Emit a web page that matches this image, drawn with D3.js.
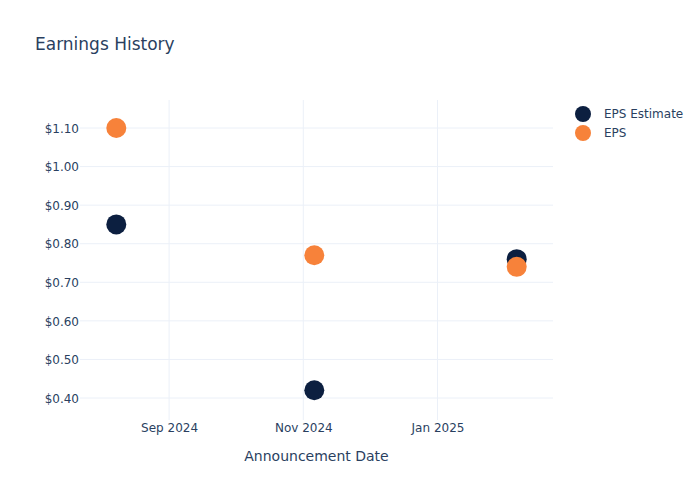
<!DOCTYPE html>
<html>
<head>
<meta charset="utf-8">
<script src="https://cdn.jsdelivr.net/npm/d3@7"></script>
<style>
body { margin: 0; background: #fff; }
svg { font-family: "DejaVu Sans", "Open Sans", sans-serif; }
</style>
</head>
<body>
<svg id="chart" width="700" height="500"></svg>
<script>
const dates = ["2024-08-08", "2024-11-06", "2025-02-06"];
const epsEstimate = [0.85, 0.42, 0.76];
const eps = [1.10, 0.77, 0.74];
const yTicks = [0.40, 0.50, 0.60, 0.70, 0.80, 0.90, 1.00, 1.10];
const xTickDates = ["2024-09-01", "2024-11-01", "2025-01-01"];
const xTickLabels = ["Sep 2024", "Nov 2024", "Jan 2025"];
const seriesNames = ["EPS Estimate", "EPS"];
const seriesColors = ["#0c1f40", "#f7823a"];

const parse = d3.utcParse("%Y-%m-%d");
const parseT = d3.utcParse("%Y-%m-%dT%H:%M");
const svg = d3.select("#chart");
const mLeft = 80, mRight = 553, mTop = 100, mBottom = 420;
const textColor = "#2a3f5f", gridColor = "#ebf0f8";

const x = d3.scaleUtc()
  .domain([parseT("2024-07-22T12:00"), parseT("2025-02-22T12:00")])
  .range([mLeft, mRight]);
const y = d3.scaleLinear().domain([0.343, 1.1726]).range([mBottom, mTop]);

// grid
svg.append("g").selectAll("line").data(yTicks).join("line")
  .attr("x1", mLeft).attr("x2", mRight)
  .attr("y1", d => y(d)).attr("y2", d => y(d))
  .attr("stroke", gridColor).attr("stroke-width", 1);
svg.append("g").selectAll("line").data(xTickDates).join("line")
  .attr("x1", d => x(parse(d))).attr("x2", d => x(parse(d)))
  .attr("y1", mTop).attr("y2", mBottom)
  .attr("stroke", gridColor).attr("stroke-width", 1);

// y axis labels
const yAxis = d3.axisLeft(y).tickValues(yTicks).tickSize(0).tickPadding(0)
  .tickFormat(d => "$" + d3.format(".2f")(d));
const yg = svg.append("g").attr("transform", `translate(${mLeft - 1},0)`).call(yAxis);
yg.attr("font-family", null).attr("font-size", null);
yg.select(".domain").remove();
yg.selectAll("text").attr("fill", textColor).style("font-size", "12px")
  .attr("dy", "0.35em");

// x axis labels
const xAxis = d3.axisBottom(x).tickValues(xTickDates.map(parse)).tickSize(0).tickPadding(0)
  .tickFormat((d, i) => xTickLabels[i]);
const xg = svg.append("g").attr("transform", `translate(0,${mBottom + 3})`).call(xAxis);
xg.attr("font-family", null).attr("font-size", null);
xg.select(".domain").remove();
xg.selectAll("text").attr("fill", textColor).style("font-size", "12px").attr("dy", "0.71em");

// axis title
svg.append("text").attr("x", (mLeft + mRight) / 2).attr("y", 461)
  .attr("text-anchor", "middle").attr("fill", textColor).style("font-size", "14px")
  .text("Announcement Date");

// title
svg.append("text").attr("x", 35).attr("y", 50).attr("fill", textColor)
  .style("font-size", "17px").text("Earnings History");

// points
const series = [epsEstimate, eps];
series.forEach((vals, si) => {
  svg.append("g").selectAll("circle").data(vals).join("circle")
    .attr("cx", (d, i) => x(parse(dates[i])))
    .attr("cy", d => y(d))
    .attr("r", 10)
    .attr("fill", seriesColors[si]);
});

// legend
const lg = svg.append("g");
seriesNames.forEach((n, i) => {
  lg.append("circle").attr("cx", 583).attr("cy", 114 + i * 19).attr("r", 8)
    .attr("fill", seriesColors[i]);
  lg.append("text").attr("x", 604).attr("y", 114 + i * 19).attr("dy", "0.35em")
    .attr("fill", textColor).style("font-size", "12px").text(n);
});
</script>
</body>
</html>
